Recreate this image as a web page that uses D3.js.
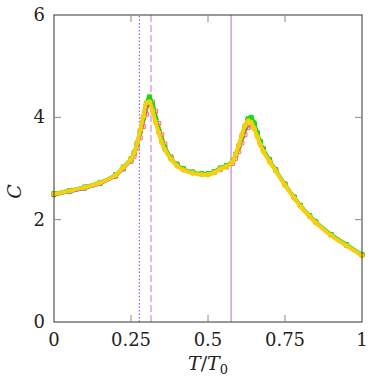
<!DOCTYPE html>
<html>
<head>
<meta charset="utf-8">
<script src="https://cdn.jsdelivr.net/npm/d3@7"></script>
<style>
body{margin:0;background:#fff;}
</style>
</head>
<body>
<svg id="chart" width="382" height="382" font-family="'DejaVu Serif', serif"></svg>
<script>
// datos
var temps = [0,0.05,0.1,0.15,0.2,0.225,0.25,0.26,0.27,0.28,0.29,0.3,0.31,0.32,0.33,0.34,0.35,0.36,0.38,0.4,0.42,0.45,0.48,0.5,0.52,0.54,0.56,0.58,0.59,0.6,0.61,0.62,0.63,0.64,0.65,0.66,0.67,0.68,0.7,0.72,0.75,0.78,0.8,0.83,0.85,0.9,0.95,1];
var cBlue   = [2.49,2.55,2.62,2.71,2.86,3.01,3.17,3.29,3.48,3.72,3.98,4.25,4.36,4.2,3.96,3.74,3.54,3.39,3.19,3.06,2.98,2.92,2.89,2.89,2.93,3.0,3.05,3.14,3.27,3.43,3.62,3.8,3.96,3.98,3.86,3.68,3.5,3.36,3.15,2.96,2.68,2.43,2.27,2.07,1.95,1.7,1.5,1.31];
var cGreen  = [2.51,2.57,2.64,2.73,2.88,3.03,3.19,3.31,3.5,3.74,4.0,4.28,4.4,4.24,3.99,3.76,3.56,3.41,3.2,3.07,2.99,2.93,2.9,2.9,2.94,3.01,3.06,3.15,3.28,3.44,3.63,3.82,3.97,4.0,3.89,3.7,3.52,3.37,3.16,2.97,2.69,2.44,2.28,2.08,1.96,1.71,1.51,1.32];
var cRed    = [2.49,2.55,2.62,2.71,2.85,2.99,3.14,3.24,3.4,3.6,3.82,4.06,4.25,4.3,4.12,3.88,3.66,3.48,3.23,3.09,3.0,2.93,2.89,2.89,2.92,2.98,3.03,3.1,3.2,3.33,3.5,3.66,3.8,3.83,3.8,3.68,3.53,3.39,3.18,2.98,2.7,2.44,2.28,2.07,1.95,1.7,1.5,1.31];
var cYellow = [2.5,2.56,2.63,2.72,2.87,3.02,3.18,3.3,3.5,3.75,4.02,4.28,4.3,4.12,3.9,3.7,3.51,3.37,3.18,3.05,2.97,2.91,2.88,2.88,2.92,2.99,3.04,3.14,3.28,3.46,3.66,3.84,3.93,3.9,3.78,3.62,3.46,3.33,3.13,2.95,2.67,2.42,2.26,2.06,1.94,1.69,1.49,1.3];
var xTicks = [0,0.25,0.5,0.75,1];
var yTicks = [0,2,4,6];
var vLines = [0.277,0.315,0.575];

var m = {l:54, r:20, t:15, b:60};
var W = 382, H = 382;
var svg = d3.select("#chart");

var sx = d3.scaleLinear().domain([0,1]).range([m.l, W-m.r]);
var sy = d3.scaleLinear().domain([0,6]).range([H-m.b, m.t]);

// lineas verticales
var vStyle = [
	{c:"#9a3fd0", w:1, d:"1.5,2"},
	{c:"#dcaae6", w:1.6, d:"7,3"},
	{c:"#cfa6e6", w:1.6, d:null}
];
vLines.forEach(function(v,i){
	svg.append("line")
		.attr("x1",sx(v)).attr("x2",sx(v))
		.attr("y1",sy(0)).attr("y2",sy(6))
		.attr("stroke",vStyle[i].c)
		.attr("stroke-width",vStyle[i].w)
		.attr("stroke-dasharray",vStyle[i].d);
});

function serie(vals,color,mark,filled,lw){
	var pts = temps.map(function(t,i){ return {key:t, value:vals[i]}; });
	var line = d3.line()
		.x(function(d){return sx(d.key)})
		.y(function(d){return sy(d.value)})
		.curve(d3.curveCatmullRom);
	svg.append("path").datum(pts)
		.attr("d",line)
		.attr("fill","none")
		.attr("stroke",color)
		.attr("stroke-width",lw);
	var sym = d3.symbol().type(mark).size(16);
	svg.selectAll(null).data(pts).enter().append("path")
		.attr("d",sym)
		.attr("transform",function(d){return "translate("+sx(d.key)+","+sy(d.value)+")"})
		.attr("fill",filled ? color : "none")
		.attr("stroke",color)
		.attr("stroke-width",1);
}

serie(cRed,"#ff6a6a",d3.symbolSquare,false,1.5);
serie(cBlue,"#2a3fe0",d3.symbolCircle,true,3.5);
serie(cGreen,"#12dd12",d3.symbolSquare,true,3.5);
serie(cYellow,"#f6cf10",d3.symbolCircle,true,4);

// marco
svg.append("rect")
	.attr("x",m.l).attr("y",m.t)
	.attr("width",W-m.l-m.r).attr("height",H-m.t-m.b)
	.attr("fill","none").attr("stroke","#333").attr("stroke-width",1);

// ticks hacia dentro en los cuatro lados
var tk = 7;
xTicks.slice(1,-1).forEach(function(v){
	svg.append("line").attr("x1",sx(v)).attr("x2",sx(v)).attr("y1",sy(0)).attr("y2",sy(0)-tk).attr("stroke","#888");
	svg.append("line").attr("x1",sx(v)).attr("x2",sx(v)).attr("y1",sy(6)).attr("y2",sy(6)+tk).attr("stroke","#888");
});
yTicks.slice(1,-1).forEach(function(v){
	svg.append("line").attr("x1",sx(0)).attr("x2",sx(0)+tk).attr("y1",sy(v)).attr("y2",sy(v)).attr("stroke","#888");
	svg.append("line").attr("x1",sx(1)).attr("x2",sx(1)-tk).attr("y1",sy(v)).attr("y2",sy(v)).attr("stroke","#888");
});

// etiquetas
svg.selectAll(".xl").data(xTicks).enter().append("text")
	.attr("x",function(d){return sx(d)})
	.attr("y",sy(0)+24)
	.attr("text-anchor","middle")
	.attr("font-size",18)
	.attr("fill","#222")
	.text(function(d){return d});
svg.selectAll(".yl").data(yTicks).enter().append("text")
	.attr("x",m.l-9)
	.attr("y",function(d){return sy(d)+6})
	.attr("text-anchor","end")
	.attr("font-size",18)
	.attr("fill","#222")
	.text(function(d){return d});

var xl = svg.append("text")
	.attr("x",sx(0.5))
	.attr("y",H-12)
	.attr("text-anchor","middle")
	.attr("font-size",19)
	.attr("fill","#222");
xl.append("tspan").attr("font-style","italic").text("T");
xl.append("tspan").text("/");
xl.append("tspan").attr("font-style","italic").text("T");
xl.append("tspan").attr("font-size",13).attr("dy",4).text("0");

svg.append("text")
	.attr("transform","translate(21,"+sy(2.55)+") rotate(-90)")
	.attr("text-anchor","middle")
	.attr("font-size",19)
	.attr("font-style","italic")
	.attr("fill","#222")
	.text("C");
</script>
</body>
</html>
